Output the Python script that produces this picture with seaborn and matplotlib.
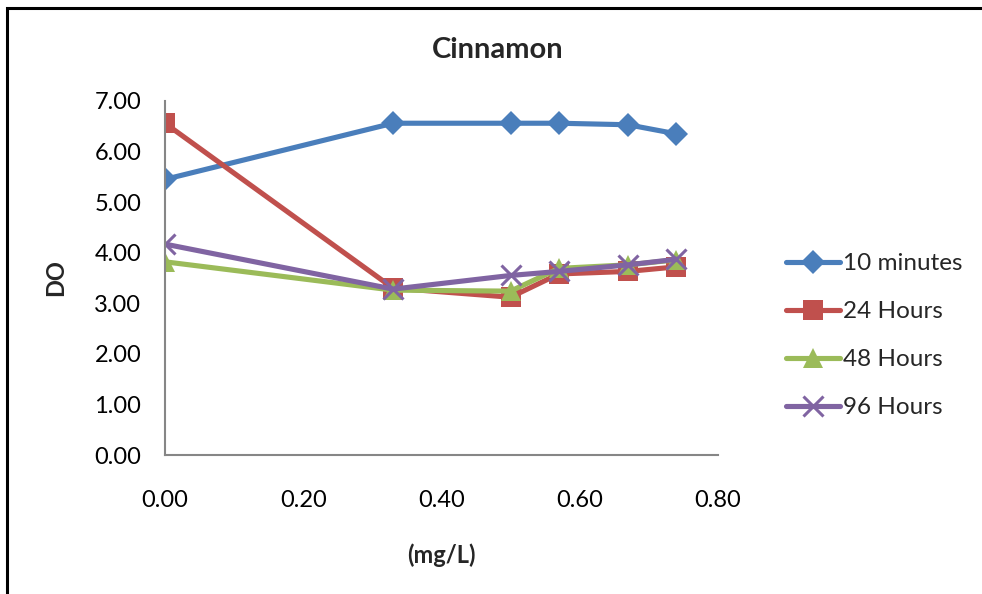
import matplotlib
matplotlib.use("Agg")
import matplotlib.pyplot as plt
import seaborn as sns
import pandas as pd
from matplotlib.patches import Rectangle

# Data
conc = [0.00, 0.33, 0.50, 0.57, 0.67, 0.74]
series_names = ["10 minutes", "24 Hours", "48 Hours", "96 Hours"]
do_10min = [5.45, 6.56, 6.56, 6.56, 6.53, 6.35]
do_24h = [6.56, 3.30, 3.12, 3.58, 3.63, 3.72]
do_48h = [3.82, 3.26, 3.24, 3.69, 3.76, 3.86]
do_96h = [4.17, 3.28, 3.55, 3.63, 3.76, 3.87]
x_ticks = [0.00, 0.20, 0.40, 0.60, 0.80]
y_ticks = [0.00, 1.00, 2.00, 3.00, 4.00, 5.00, 6.00, 7.00]

rows = []
for name, vals in zip(series_names, [do_10min, do_24h, do_48h, do_96h]):
    for x, v in zip(conc, vals):
        rows.append({"conc": x, "DO": v, "series": name})
df = pd.DataFrame(rows)

sns.set_theme(style="white")
plt.rcParams['font.family'] = ['Lato', 'DejaVu Sans']

colors = {"10 minutes": "#4A7EBB", "24 Hours": "#C0504D",
          "48 Hours": "#9BBB59", "96 Hours": "#8064A2"}
markers = {"10 minutes": "D", "24 Hours": "s", "48 Hours": "^", "96 Hours": "x"}
sizes = {"10 minutes": 12, "24 Hours": 14, "48 Hours": 15, "96 Hours": 14}

fig = plt.figure(figsize=(9.82, 5.94), dpi=100)
ax = fig.add_axes([0.168, 0.234, 0.563, 0.596])

for name in series_names:
    sub = df[df.series == name]
    sns.lineplot(data=sub, x="conc", y="DO", ax=ax, color=colors[name],
                 linewidth=3.7, label=name, legend=False)
    line = ax.lines[-1]
    line.set_marker(markers[name])
    line.set_markersize(sizes[name])
    if name == "96 Hours":
        line.set_markeredgewidth(2.2)
        line.set_markeredgecolor(colors[name])
    else:
        line.set_markeredgewidth(0)
        line.set_markerfacecolor(colors[name])

ax.set_xlim(0, 0.8)
ax.set_ylim(0, 7)
ax.set_xticks(x_ticks)
ax.set_xticklabels([f"{t:.2f}" for t in x_ticks], fontsize=17)
ax.set_yticks(y_ticks)
ax.set_yticklabels([f"{t:.2f}" for t in y_ticks], fontsize=17)
ax.tick_params(axis="both", length=0, colors="black")
ax.tick_params(axis="x", pad=25)
ax.tick_params(axis="y", pad=17)
for s in ["top", "right"]:
    ax.spines[s].set_visible(False)
for s in ["left", "bottom"]:
    ax.spines[s].set_color("#868686")
    ax.spines[s].set_linewidth(1.5)

ax.set_xlabel("(mg/L)", fontsize=17, fontweight="bold")
ax.xaxis.set_label_coords(0.5, -0.249)
ax.set_ylabel("DO", fontsize=17, fontweight="bold")
ax.yaxis.set_label_coords(-0.177, 0.5)
fig.text(0.507, 1 - 58 / 594, "Cinnamon", fontsize=21, fontweight="bold",
         ha="center", va="baseline")

handles = ax.lines[:4]
leg = fig.legend(handles, series_names, loc="upper left",
                 bbox_to_anchor=(0.800, 0.574), frameon=False, fontsize=17.5,
                 borderpad=0, borderaxespad=0,
                 handlelength=2.25, handletextpad=0.12, labelspacing=1.11)

fig.patches.append(Rectangle((0.0075, -0.1), 1.1, 1.086, transform=fig.transFigure,
                             fill=False, edgecolor="black", linewidth=2.2))

fig.savefig("out.png", dpi=100)
